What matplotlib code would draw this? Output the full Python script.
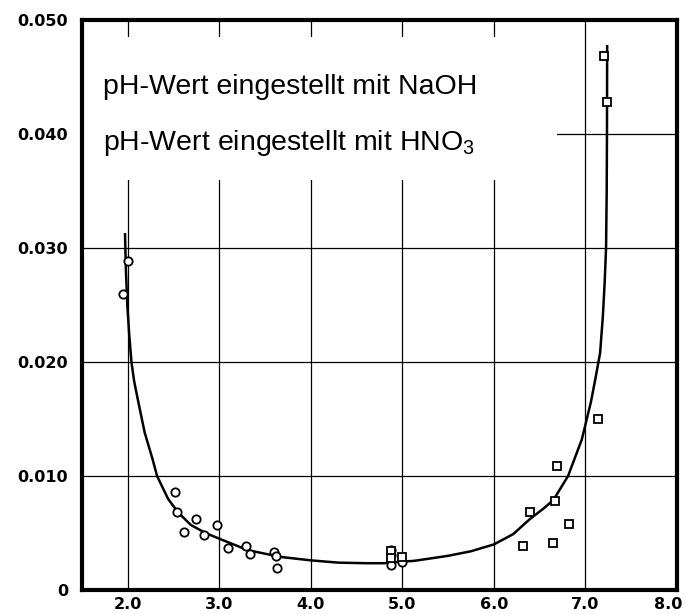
import matplotlib
matplotlib.use("Agg")
import matplotlib.pyplot as plt
from matplotlib.patches import Rectangle
from matplotlib.transforms import ScaledTranslation

# --- data ---
# fitted curve (U shape)
curve_x = [1.97, 1.98, 1.995, 2.015, 2.04, 2.07, 2.11, 2.185, 2.27, 2.32, 2.44, 2.55,
           2.69, 2.85, 3.00, 3.31, 3.67, 4.00, 4.30, 4.61, 4.80, 5.00, 5.12, 5.25,
           5.50, 5.75, 6.00, 6.21, 6.39, 6.55, 6.65, 6.81, 6.96, 7.06, 7.11, 7.16,
           7.19, 7.21, 7.225, 7.232, 7.235, 7.237]
curve_y = [0.0312, 0.0280, 0.0250, 0.0225, 0.0200, 0.0183, 0.0167, 0.0138, 0.0115,
           0.0100, 0.0080, 0.0068, 0.0057, 0.0050, 0.0045, 0.0035, 0.0029, 0.0026,
           0.0024, 0.00235, 0.00235, 0.0025, 0.00255, 0.0027, 0.0030, 0.0034,
           0.0040, 0.0049, 0.0062, 0.0072, 0.0079, 0.0100, 0.0132, 0.0165, 0.0186,
           0.0208, 0.0240, 0.0270, 0.0300, 0.0350, 0.0400, 0.0477]

# circles (NaOH)
naoh_x = [1.95, 2.00, 2.52, 2.54, 2.61, 2.75, 2.83, 2.97, 3.09, 3.29, 3.33, 3.60,
          3.62, 3.63, 4.88, 4.88, 4.88, 5.00]
naoh_y = [0.0260, 0.0289, 0.0086, 0.0068, 0.0051, 0.0062, 0.0048, 0.0057, 0.0037,
          0.0039, 0.0032, 0.0033, 0.0030, 0.0019, 0.0035, 0.0031, 0.0022, 0.0025]

# squares (HNO3)
hno3_x = [4.88, 4.88, 5.00, 6.32, 6.39, 6.64, 6.67, 6.69, 6.82, 7.14, 7.20, 7.24]
hno3_y = [0.0034, 0.0028, 0.0029, 0.0039, 0.0068, 0.0041, 0.0078, 0.0109, 0.0058,
          0.0150, 0.0468, 0.0428]

x_ticks = [2.0, 3.0, 4.0, 5.0, 6.0, 7.0, 8.0]
y_ticks = [0, 0.010, 0.020, 0.030, 0.040, 0.050]
y_ticklabels = ["0", "0.010", "0.020", "0.030", "0.040", "0.050"]

label_naoh = "pH-Wert eingestellt mit NaOH"
label_hno3 = r"pH-Wert eingestellt mit HNO$_\mathregular{3}$"

fig = plt.figure(figsize=(6.86, 6.14), dpi=100)
ax = fig.add_axes([82 / 686, 1 - 590 / 614, 595 / 686, 570 / 614])

ax.set_xlim(1.5, 8.0)
ax.set_ylim(0, 0.050)
ax.set_xticks(x_ticks)
ax.set_xticklabels([f"{v:.1f}" for v in x_ticks])
ax.set_yticks(y_ticks)
ax.set_yticklabels(y_ticklabels)
ax.tick_params(axis="x", length=0, pad=5)
ax.tick_params(axis="y", length=0, pad=10)
for lab in ax.get_xticklabels() + ax.get_yticklabels():
    lab.set_fontweight("bold")
    lab.set_fontsize(11.5)
    lab.set_family("DejaVu Sans")

# last x label sits against the figure edge, nudge it in a bit
last = ax.get_xticklabels()[-1]
last.set_transform(last.get_transform() + ScaledTranslation(-0.09, 0, fig.dpi_scale_trans))

ax.set_axisbelow(True)
ax.grid(True, color="black", linewidth=0.9)
for s in ax.spines.values():
    s.set_linewidth(3)
    s.set_color("black")

# white box that hides the grid behind the labels
ax.add_patch(Rectangle((1.5, 0.036), 5.19, 0.0125, facecolor="white",
                       edgecolor="none", zorder=1))

ax.plot(curve_x, curve_y, color="black", linewidth=1.8, zorder=2)
ax.plot(naoh_x, naoh_y, "o", markersize=6, markerfacecolor="white",
        markeredgecolor="black", markeredgewidth=1.3, zorder=3, clip_on=False)
ax.plot(hno3_x, hno3_y, "s", markersize=6, markerfacecolor="white",
        markeredgecolor="black", markeredgewidth=1.3, zorder=3, clip_on=False)

ax.text(1.727, 0.0435, label_naoh, fontsize=20.5, family="Liberation Sans",
        va="baseline", ha="left", zorder=4)
ax.text(1.727, 0.0386, label_hno3, fontsize=20.5, family="Liberation Sans",
        va="baseline", ha="left", zorder=4)

fig.savefig("out.png", dpi=100)
